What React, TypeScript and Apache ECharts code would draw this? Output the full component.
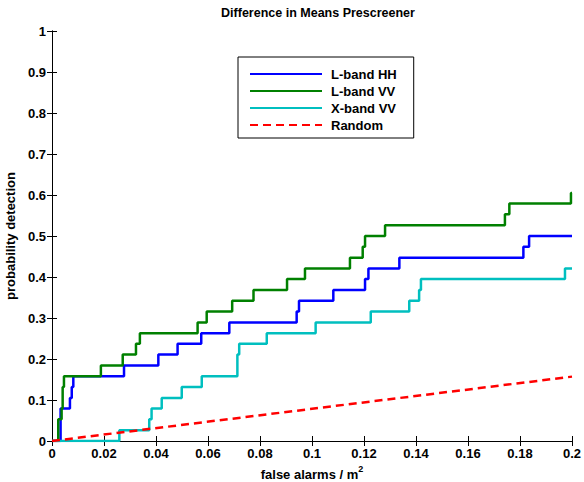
import React, { useEffect, useRef } from "react";
import * as echarts from "echarts";

const titleText = "Difference in Means Prescreener";
const xAxisName = "false alarms / m";
const yAxisName = "probability detection";
const seriesNames = ["L-band HH", "L-band VV", "X-band VV", "Random"];

// [false alarms / m^2, probability of detection] — step points (value after each jump)
const lbandHH: [number, number][] = [
  [0, 0], [0.0033, 0.079], [0.0069, 0.105], [0.0076, 0.132], [0.0082, 0.158],
  [0.0277, 0.184], [0.0409, 0.211], [0.0483, 0.237], [0.0574, 0.263], [0.0682, 0.289],
  [0.0941, 0.316], [0.095, 0.342], [0.1082, 0.368], [0.1204, 0.395], [0.1217, 0.421],
  [0.1336, 0.447], [0.1813, 0.474], [0.1835, 0.5], [0.2, 0.5],
];
const lbandVV: [number, number][] = [
  [0, 0], [0.0018, 0.0], [0.0024, 0.053], [0.0037, 0.079], [0.0041, 0.132], [0.0046, 0.158],
  [0.0188, 0.184], [0.0272, 0.211], [0.0323, 0.237], [0.0338, 0.263], [0.056, 0.289],
  [0.0595, 0.316], [0.0693, 0.342], [0.0775, 0.368], [0.0904, 0.395], [0.0973, 0.421],
  [0.1146, 0.447], [0.1195, 0.474], [0.1204, 0.5], [0.1281, 0.526], [0.1742, 0.553],
  [0.1759, 0.579], [0.1996, 0.605], [0.2, 0.605],
];
const xbandVV: [number, number][] = [
  [0, 0], [0.0259, 0.026], [0.0374, 0.053], [0.0383, 0.079], [0.0422, 0.105],
  [0.0499, 0.132], [0.0576, 0.158], [0.0713, 0.211], [0.072, 0.237], [0.0826, 0.263],
  [0.1014, 0.289], [0.1226, 0.316], [0.1374, 0.342], [0.1412, 0.368], [0.1419, 0.395],
  [0.1973, 0.421], [0.2, 0.421],
];
const randomLine: [number, number][] = [
  [0, 0], [0.2, 0.157],
];

const colors = ["#0000ff", "#008000", "#00bfbf", "#ff0000"];
const FONT = "'Liberation Sans', Arial, Helvetica, sans-serif";

export default function App() {
  const ref = useRef<HTMLDivElement>(null);
  useEffect(() => {
    const chart = echarts.init(ref.current!, null, { renderer: "svg" });
    const fmtX = (v: number) => (v === 0 ? "0" : String(parseFloat(v.toFixed(2))));
    const fmtY = (v: number) => (v === 0 ? "0" : String(parseFloat(v.toFixed(1))));
    const axisCommon = {
      axisLine: { show: true, lineStyle: { color: "#000", width: 1 } },
      axisTick: { show: true, inside: true, length: 5, lineStyle: { color: "#000", width: 1 } },
      splitLine: { show: false },
    };
    const labelStyle = { color: "#000", fontWeight: "bold" as const, fontSize: 13, fontFamily: FONT };
    const mk = (name: string, data: [number, number][], i: number, dashed = false) => ({
      name,
      type: "line",
      data,
      step: dashed ? undefined : "end",
      symbol: "none",
      xAxisIndex: 0,
      yAxisIndex: 0,
      lineStyle: { color: colors[i], width: 2.5, type: dashed ? [8, 5] : "solid" },
      itemStyle: { color: colors[i] },
    });
    chart.setOption({
      animation: false,
      backgroundColor: "#fff",
      title: {
        text: titleText,
        left: 313,
        textAlign: "center",
        top: 1,
        textStyle: { color: "#000", fontWeight: "bold", fontSize: 12.5, fontFamily: FONT },
      },
      grid: { left: 52, right: 12, top: 31, bottom: 41, containLabel: false, outerBoundsMode: "none" },
      legend: {
        orient: "vertical",
        left: 238,
        top: 57,
        padding: [10, 17, 6, 11],
        itemGap: 3,
        itemWidth: 72,
        itemHeight: 14,
        backgroundColor: "#fff",
        borderColor: "#000",
        borderWidth: 1,
        borderRadius: 0,
        data: seriesNames,
        itemStyle: { color: "transparent", opacity: 0, borderWidth: 0 },
        textStyle: { ...labelStyle, lineHeight: 14, padding: [0, 0, 0, 4] },
      },
      xAxis: [
        {
          type: "value", position: "bottom", min: 0, max: 0.2, interval: 0.02,
          ...axisCommon,
          axisLabel: { ...labelStyle, margin: 6, formatter: fmtX },
          name: "{a|" + xAxisName + "}{b|2}",
          nameLocation: "middle",
          nameGap: 23,
          nameTextStyle: {
            ...labelStyle,
            rich: {
              a: { ...labelStyle, lineHeight: 16, verticalAlign: "bottom" },
              b: { ...labelStyle, fontSize: 9, lineHeight: 7, verticalAlign: "top" },
            },
          },
        },
        {
          type: "value", position: "top", min: 0, max: 0.2, interval: 0.02,
          ...axisCommon,
          axisLabel: { show: false },
        },
      ],
      yAxis: [
        {
          type: "value", position: "left", min: 0, max: 1, interval: 0.1,
          ...axisCommon,
          axisLabel: { ...labelStyle, margin: 6, formatter: fmtY },
          name: yAxisName,
          nameLocation: "middle",
          nameRotate: 90,
          nameGap: 28,
          nameTextStyle: { ...labelStyle },
        },
        {
          type: "value", position: "right", min: 0, max: 1, interval: 0.1,
          ...axisCommon,
          axisLabel: { show: false },
        },
      ],
      series: [
        mk(seriesNames[0], lbandHH, 0),
        mk(seriesNames[1], lbandVV, 1),
        mk(seriesNames[2], xbandVV, 2),
        mk(seriesNames[3], randomLine, 3, true),
      ],
    });
    return () => chart.dispose();
  }, []);
  return (
    <div
      ref={ref}
      style={{ position: "fixed", left: 0, top: 0, width: 584, height: 482, background: "#fff" }}
    />
  );
}
